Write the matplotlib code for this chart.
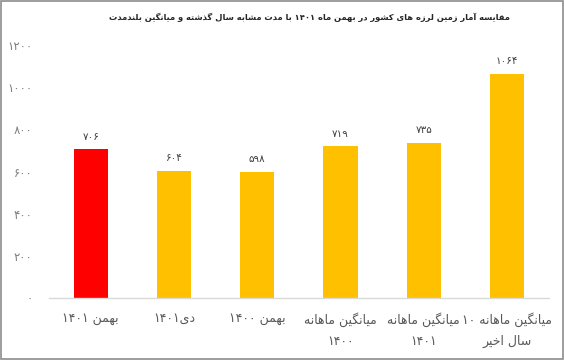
import matplotlib
matplotlib.use("Agg")
import matplotlib.pyplot as plt
from matplotlib.patches import Rectangle

# ---------------- data ----------------
title = "مقایسه آمار زمین لرزه های کشور در بهمن ماه ۱۴۰۱ با مدت مشابه سال گذشته و میانگین بلندمدت"
categories = [
    "بهمن ۱۴۰۱",
    "دی۱۴۰۱",
    "بهمن ۱۴۰۰",
    "میانگین ماهانه\n۱۴۰۰",
    "میانگین ماهانه\n۱۴۰۱",
    "میانگین ماهانه ۱۰\nسال اخیر",
]
values = [706, 604, 598, 719, 735, 1064]
bar_colors = ["#FF0000", "#FFC000", "#FFC000", "#FFC000", "#FFC000", "#FFC000"]
yticks = [0, 200, 400, 600, 800, 1000, 1200]

# ------------- minimal Arabic-script shaping + RTL ordering -------------
FORMS = {  # iso, fin, ini, med
    "ا": ("\uFE8D", "\uFE8E"), "آ": ("\uFE81", "\uFE82"),
    "د": ("\uFEA9", "\uFEAA"), "ذ": ("\uFEAB", "\uFEAC"),
    "ر": ("\uFEAD", "\uFEAE"), "ز": ("\uFEAF", "\uFEB0"),
    "و": ("\uFEED", "\uFEEE"),
    "ب": ("\uFE8F", "\uFE90", "\uFE91", "\uFE92"),
    "ت": ("\uFE95", "\uFE96", "\uFE97", "\uFE98"),
    "خ": ("\uFEA5", "\uFEA6", "\uFEA7", "\uFEA8"),
    "س": ("\uFEB1", "\uFEB2", "\uFEB3", "\uFEB4"),
    "ش": ("\uFEB5", "\uFEB6", "\uFEB7", "\uFEB8"),
    "ق": ("\uFED5", "\uFED6", "\uFED7", "\uFED8"),
    "ل": ("\uFEDD", "\uFEDE", "\uFEDF", "\uFEE0"),
    "م": ("\uFEE1", "\uFEE2", "\uFEE3", "\uFEE4"),
    "ن": ("\uFEE5", "\uFEE6", "\uFEE7", "\uFEE8"),
    "ه": ("\uFEE9", "\uFEEA", "\uFEEB", "\uFEEC"),
    "ی": ("\uFBFC", "\uFBFD", "\uFBFE", "\uFBFF"),
    "ک": ("\uFB8E", "\uFB8F", "\uFB90", "\uFB91"),
    "گ": ("\uFB92", "\uFB93", "\uFB94", "\uFB95"),
}
DIGITS = set("۰۱۲۳۴۵۶۷۸۹")


def shape_run(run):
    out = []
    n = len(run)
    for i, ch in enumerate(run):
        f = FORMS.get(ch)
        if f is None:
            out.append(ch)
            continue
        prev = run[i - 1] if i > 0 else None
        nxt = run[i + 1] if i + 1 < n else None
        join_prev = prev in FORMS and len(FORMS[prev]) == 4
        join_next = len(f) == 4 and nxt in FORMS
        if join_prev and join_next:
            out.append(f[3])
        elif join_prev:
            out.append(f[1])
        elif join_next:
            out.append(f[2])
        else:
            out.append(f[0])
    return "".join(reversed(out))


def rtl_line(line):
    runs, cur, cur_digit = [], "", None
    for ch in line:
        d = ch in DIGITS
        if cur and d != cur_digit:
            runs.append((cur, cur_digit))
            cur = ""
        cur += ch
        cur_digit = d
    if cur:
        runs.append((cur, cur_digit))
    return "".join(r if d else shape_run(r) for r, d in reversed(runs))


def vis(text):
    return "\n".join(rtl_line(line) for line in text.split("\n"))


def fa_num(v):
    return str(v).translate(str.maketrans("0123456789", "۰۱۲۳۴۵۶۷۸۹"))


# ---------------- plot ----------------
plt.rcParams["font.family"] = ["DejaVu Sans"]
fig = plt.figure(figsize=(5.64, 3.60), dpi=100)
ax = fig.add_axes([0.087, 0.172, 0.886, 0.703])

x = list(range(len(values)))
ax.bar(x, values, width=0.41, color=bar_colors, zorder=2)
for xi, v in zip(x, values):
    ax.annotate(fa_num(v), (xi, v), xytext=(0, 5.5), textcoords="offset points",
                ha="center", va="bottom", fontsize=7.5, color="#404040")

ax.set_xlim(-0.5, len(values) - 0.5)
ax.set_ylim(0, 1200)
ax.set_yticks(yticks)
ax.set_yticklabels([fa_num(t) for t in yticks], fontsize=8.5, color="#7f7f7f")
ax.set_xticks(x)
ax.set_xticklabels([vis(c) for c in categories], fontsize=9, color="#595959",
                   linespacing=1.8)
ax.tick_params(axis="both", length=0)
ax.tick_params(axis="y", pad=12)
ax.tick_params(axis="x", pad=10)
for s in ("top", "right", "left"):
    ax.spines[s].set_visible(False)
ax.spines["bottom"].set_color("#d9d9d9")
ax.spines["bottom"].set_linewidth(1)

fig.text(0.548, 0.952, vis(title), ha="center", va="center",
         fontsize=6.0, fontweight="bold", color="#262626")

fig.patches.append(Rectangle((0.001, 0.002), 0.997, 0.996, transform=fig.transFigure,
                             fill=False, edgecolor="#8c8c8c", linewidth=1.2))

fig.savefig("out.png", dpi=100)
